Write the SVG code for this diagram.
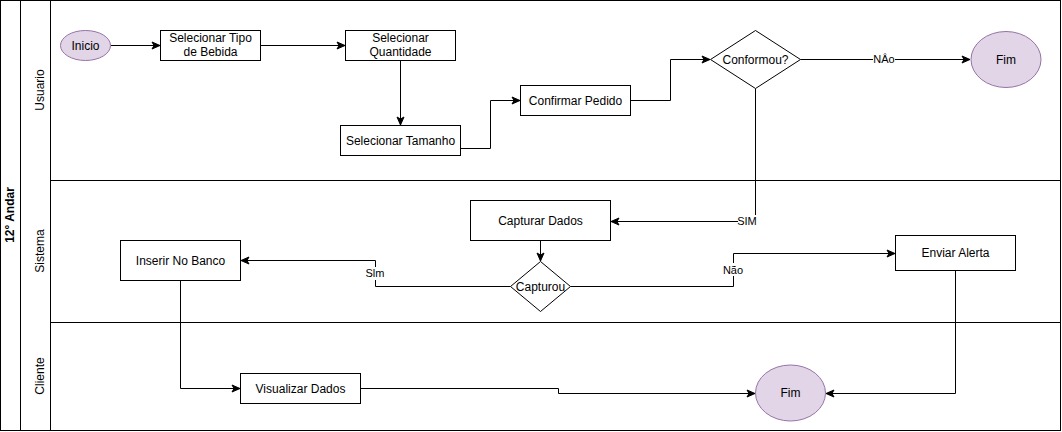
<svg xmlns="http://www.w3.org/2000/svg" width="1062" height="432" viewBox="0 0 1062 432">
<style>
text{font-family:"Liberation Sans",Arial,sans-serif;font-size:12px;fill:#000;text-anchor:middle}
.box{fill:#fff;stroke:#000;stroke-width:1}
.term{fill:#e1d5e7;stroke:#9673a6;stroke-width:1}
.lane{fill:none;stroke:#000;stroke-width:1}
.edge{fill:none;stroke:#000;stroke-width:1}
.lbl{font-size:11px}
.bg{fill:#fff}
</style>
<defs>
<marker id="arr" markerUnits="userSpaceOnUse" markerWidth="10" markerHeight="10" refX="9" refY="5" orient="auto">
<path d="M1,1.5 L9,5 L1,8.5 L3,5 z" fill="#000" stroke="#000" stroke-width="1"/>
</marker>
</defs>
<rect width="1062" height="432" fill="#fff"/>
<g id="pool">
<rect class="lane" x="0.5" y="0.5" width="1060" height="430"/>
<line class="lane" x1="20.5" y1="0.5" x2="20.5" y2="430.5"/>
<line class="lane" x1="50.5" y1="0.5" x2="50.5" y2="430.5"/>
<line class="lane" x1="50.5" y1="180.5" x2="1060.5" y2="180.5"/>
<line class="lane" x1="50.5" y1="322.5" x2="1060.5" y2="322.5"/>
<text transform="translate(14,215) rotate(-90)" style="font-weight:bold">12° Andar</text>
<text transform="translate(44,90) rotate(-90)">Usuario</text>
<text transform="translate(44,251) rotate(-90)">Sistema</text>
<text transform="translate(44,376) rotate(-90)">Cliente</text>
</g>
<g id="connectors">
<path class="edge" d="M110.5,45.5 H160" marker-end="url(#arr)"/>
<path class="edge" d="M260.5,45.5 H345" marker-end="url(#arr)"/>
<path class="edge" d="M400.5,60.5 V125" marker-end="url(#arr)"/>
<path class="edge" d="M460.5,148.5 H490.5 V100.5 H520" marker-end="url(#arr)"/>
<path class="edge" d="M630.5,100.5 H670.5 V59.5 H710" marker-end="url(#arr)"/>
<path class="edge" d="M800.5,59.5 H970" marker-end="url(#arr)"/>
<path class="edge" d="M755.5,88.5 V221.5 H611" marker-end="url(#arr)"/>
<path class="edge" d="M540.5,240.5 V261" marker-end="url(#arr)"/>
<path class="edge" d="M510.5,286.5 H375.5 V260.5 H241" marker-end="url(#arr)"/>
<path class="edge" d="M570.5,286.5 H733.5 V253.5 H895" marker-end="url(#arr)"/>
<path class="edge" d="M180.5,280.5 V388.5 H240" marker-end="url(#arr)"/>
<path class="edge" d="M360.5,388.5 H558.5 V393.5 H755" marker-end="url(#arr)"/>
<path class="edge" d="M955.5,270.5 V393.5 H826" marker-end="url(#arr)"/>
<rect class="bg" x="873" y="53" width="22" height="13"/>
<text class="lbl" x="884" y="63">NÂo</text>
<rect class="bg" x="738" y="215" width="19" height="13"/>
<text class="lbl" x="747" y="225">SIM</text>
<rect class="bg" x="366" y="267" width="18" height="13"/>
<text class="lbl" x="375" y="277">Slm</text>
<rect class="bg" x="723" y="263" width="21" height="13"/>
<text class="lbl" x="733" y="274">Não</text>
</g>
<g id="inicio">
<ellipse class="term" cx="85.5" cy="45.5" rx="25" ry="15"/>
<text x="85.5" y="49.5">Inicio</text>
</g>
<g id="selecionar-tipo">
<rect class="box" x="160.5" y="30.5" width="100" height="30"/>
<text x="210.5" y="42">Selecionar Tipo</text>
<text x="210.5" y="56">de Bebida</text>
</g>
<g id="selecionar-quantidade">
<rect class="box" x="345.5" y="30.5" width="110" height="30"/>
<text x="400.5" y="42">Selecionar</text>
<text x="400.5" y="56">Quantidade</text>
</g>
<g id="selecionar-tamanho">
<rect class="box" x="340.5" y="125.5" width="120" height="30"/>
<text x="400.5" y="145">Selecionar Tamanho</text>
</g>
<g id="confirmar-pedido">
<rect class="box" x="520.5" y="85.5" width="110" height="30"/>
<text x="575.5" y="105">Confirmar Pedido</text>
</g>
<g id="conformou">
<path class="box" d="M755.5,30.5 L800.5,59.5 L755.5,88.5 L710.5,59.5 Z"/>
<text x="755.5" y="63.5">Conformou?</text>
</g>
<g id="fim-usuario">
<ellipse class="term" cx="1006" cy="59.5" rx="35" ry="28"/>
<text x="1006" y="63.5">Fim</text>
</g>
<g id="capturar-dados">
<rect class="box" x="470.5" y="200.5" width="140" height="40"/>
<text x="540.5" y="225">Capturar Dados</text>
</g>
<g id="capturou">
<path class="box" d="M540.5,261.5 L570.5,286.5 L540.5,311.5 L510.5,286.5 Z"/>
<text x="540.5" y="290.5">Capturou</text>
</g>
<g id="inserir-banco">
<rect class="box" x="120.5" y="240.5" width="120" height="40"/>
<text x="180.5" y="265">Inserir No Banco</text>
</g>
<g id="enviar-alerta">
<rect class="box" x="895.5" y="235.5" width="120" height="35"/>
<text x="955.5" y="257">Enviar Alerta</text>
</g>
<g id="visualizar-dados">
<rect class="box" x="240.5" y="373.5" width="120" height="30"/>
<text x="300.5" y="393">Visualizar Dados</text>
</g>
<g id="fim-cliente">
<ellipse class="term" cx="790.5" cy="393" rx="35" ry="28"/>
<text x="790.5" y="397">Fim</text>
</g>
</svg>
